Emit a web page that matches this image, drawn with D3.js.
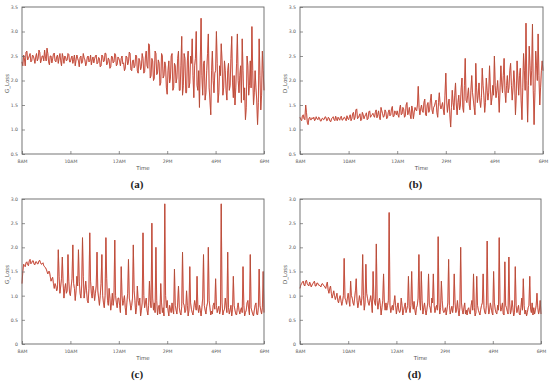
<!DOCTYPE html>
<html>
<head>
<meta charset="utf-8">
<script src="https://cdn.jsdelivr.net/npm/d3@7"></script>
<style>
  body { margin: 0; background: #fff; }
  svg { display: block; }
  .tick text { fill: #555; font-family: "DejaVu Sans", sans-serif; }
</style>
</head>
<body>
<div id="vis"></div>
<script>
// time axis labels (hours after 8AM)
const TIME_TICKS = [0, 2, 4, 6, 8, 10];
const TIME_LABELS = ["8AM", "10AM", "12AM", "2PM", "4PM", "6PM"];

// samples every 2 minutes from 8AM to 6PM, one row per hour
const G_LOSS_A = [
  2.38, 2.30, 2.52, 2.44, 2.30, 2.58, 2.60, 2.42, 2.45, 2.50, 2.55, 2.38, 2.40, 2.52, 2.50, 2.44, 2.35, 2.48, 2.55, 2.40, 2.45, 2.62, 2.58, 2.36, 2.42, 2.50, 2.50, 2.40, 2.62, 2.48,
  2.40, 2.66, 2.55, 2.38, 2.32, 2.50, 2.50, 2.36, 2.44, 2.54, 2.56, 2.40, 2.38, 2.48, 2.52, 2.35, 2.46, 2.55, 2.40, 2.30, 2.55, 2.47, 2.35, 2.50, 2.48, 2.40, 2.42, 2.55, 2.53, 2.38,
  2.38, 2.46, 2.50, 2.35, 2.43, 2.52, 2.30, 2.42, 2.52, 2.45, 2.40, 2.28, 2.47, 2.50, 2.35, 2.38, 2.55, 2.46, 2.42, 2.30, 2.36, 2.48, 2.50, 2.38, 2.40, 2.52, 2.32, 2.42, 2.48, 2.36,
  2.44, 2.50, 2.52, 2.34, 2.36, 2.47, 2.45, 2.28, 2.30, 2.52, 2.50, 2.38, 2.40, 2.56, 2.55, 2.32, 2.35, 2.46, 2.42, 2.25, 2.28, 2.50, 2.48, 2.36, 2.38, 2.55, 2.52, 2.30, 2.33, 2.48,
  2.45, 2.40, 2.30, 2.45, 2.50, 2.34, 2.36, 2.20, 2.25, 2.50, 2.48, 2.32, 2.38, 2.58, 2.55, 2.22, 2.20, 2.40, 2.42, 2.26, 2.30, 2.52, 2.50, 2.20, 2.15, 2.45, 2.40, 2.22, 2.28, 2.55,
  2.45, 2.15, 2.18, 2.48, 2.60, 2.30, 2.25, 2.75, 2.72, 2.05, 2.10, 2.45, 2.40, 2.00, 2.05, 2.60, 2.55, 2.12, 2.15, 2.42, 2.35, 1.90, 1.95, 2.55, 2.50, 2.05, 2.10, 2.38, 2.30, 1.85,
  1.72, 2.20, 2.40, 1.95, 2.05, 2.50, 2.55, 1.80, 1.85, 2.35, 2.30, 1.95, 2.05, 2.45, 2.60, 1.80, 1.80, 2.30, 2.90, 1.70, 1.90, 2.55, 2.45, 1.75, 1.75, 2.40, 2.60, 1.85, 1.95, 2.50,
  2.35, 2.85, 2.10, 1.65, 2.30, 2.45, 3.00, 1.90, 1.80, 2.20, 1.45, 2.40, 3.27, 2.10, 1.70, 2.35, 2.40, 1.60, 1.75, 2.20, 2.55, 2.95, 1.85, 1.60, 1.30, 2.20, 2.60, 2.00, 1.75, 2.15,
  2.20, 3.00, 2.35, 1.55, 1.75, 2.30, 2.10, 2.75, 2.40, 1.70, 1.85, 2.40, 2.20, 1.80, 1.60, 2.20, 2.35, 1.80, 1.90, 2.45, 2.90, 1.95, 1.65, 2.10, 1.50, 1.85, 2.35, 2.95, 2.00, 1.75,
  2.10, 2.30, 1.55, 2.85, 2.20, 1.60, 1.85, 1.20, 1.45, 2.50, 2.30, 1.70, 1.90, 2.40, 1.85, 3.10, 2.20, 1.50, 1.75, 2.20, 1.85, 1.60, 1.10, 1.55, 2.85, 2.10, 1.40, 1.70, 2.60, 2.20,
  1.80
];

const D_LOSS_B = [
  1.25, 1.20, 1.18, 1.28, 1.30, 1.22, 1.20, 1.50, 1.35, 1.15, 1.10, 1.22, 1.25, 1.20, 1.20, 1.24, 1.22, 1.25, 1.18, 1.20, 1.26, 1.22, 1.20, 1.25, 1.24, 1.18, 1.17, 1.22, 1.23, 1.20,
  1.21, 1.26, 1.25, 1.18, 1.19, 1.25, 1.23, 1.17, 1.16, 1.22, 1.24, 1.26, 1.20, 1.18, 1.27, 1.22, 1.18, 1.25, 1.22, 1.19, 1.25, 1.27, 1.19, 1.20, 1.24, 1.25, 1.21, 1.18, 1.28, 1.22,
  1.20, 1.26, 1.30, 1.18, 1.22, 1.32, 1.35, 1.20, 1.25, 1.40, 1.42, 1.22, 1.24, 1.28, 1.32, 1.18, 1.20, 1.35, 1.30, 1.22, 1.27, 1.30, 1.34, 1.20, 1.22, 1.36, 1.38, 1.25, 1.28, 1.30,
  1.33, 1.28, 1.25, 1.35, 1.40, 1.24, 1.30, 1.38, 1.26, 1.20, 1.45, 1.38, 1.32, 1.25, 1.28, 1.40, 1.36, 1.22, 1.24, 1.35, 1.40, 1.28, 1.30, 1.42, 1.47, 1.26, 1.27, 1.38, 1.35, 1.30,
  1.38, 1.30, 1.25, 1.42, 1.50, 1.30, 1.32, 1.45, 1.42, 1.25, 1.28, 1.50, 1.55, 1.30, 1.35, 1.45, 1.30, 1.22, 1.48, 1.40, 1.22, 1.35, 1.45, 1.40, 1.38, 1.50, 1.88, 1.45, 1.30, 1.42,
  1.50, 1.38, 1.35, 1.55, 1.62, 1.30, 1.28, 1.50, 1.55, 1.35, 1.40, 1.60, 1.72, 1.40, 1.32, 1.45, 1.48, 1.55, 1.60, 1.35, 1.25, 1.55, 1.75, 1.50, 1.42, 1.48, 1.55, 1.40, 1.30, 1.70,
  2.15, 1.60, 1.35, 1.50, 1.62, 1.30, 1.05, 1.45, 1.80, 1.55, 1.40, 1.70, 1.95, 1.50, 1.30, 1.55, 1.70, 1.40, 1.50, 1.85, 2.05, 1.45, 1.35, 1.90, 2.45, 1.60, 1.55, 1.70, 1.85, 1.50,
  1.40, 1.80, 2.10, 1.75, 1.60, 1.45, 1.30, 2.35, 1.85, 1.55, 1.70, 1.95, 1.60, 1.45, 1.65, 2.25, 1.90, 1.70, 1.35, 1.55, 2.05, 1.80, 1.60, 1.75, 2.30, 1.85, 1.50, 1.65, 1.90, 1.70,
  2.50, 1.90, 1.65, 1.80, 2.00, 1.70, 1.35, 1.85, 2.30, 1.95, 1.75, 2.10, 2.45, 1.80, 1.55, 1.90, 2.10, 1.75, 1.85, 2.20, 2.35, 1.90, 1.60, 1.85, 2.20, 1.95, 1.30, 1.70, 2.40, 2.05,
  1.70, 2.10, 2.25, 1.60, 1.20, 1.85, 2.55, 2.20, 1.80, 3.17, 2.00, 1.15, 1.90, 2.70, 2.30, 1.90, 2.20, 3.15, 1.80, 1.10, 1.75, 2.60, 2.30, 2.00, 2.95, 2.10, 1.50, 1.85, 2.20, 2.40,
  2.20
];

const G_LOSS_C = [
  1.25, 1.50, 1.65, 1.62, 1.60, 1.68, 1.70, 1.64, 1.62, 1.72, 1.75, 1.66, 1.68, 1.72, 1.72, 1.65, 1.64, 1.70, 1.70, 1.66, 1.66, 1.72, 1.73, 1.68, 1.65, 1.66, 1.68, 1.62, 1.60, 1.58,
  1.55, 1.50, 1.45, 1.50, 1.50, 1.40, 1.30, 1.35, 1.38, 1.25, 1.15, 1.25, 1.20, 1.10, 1.15, 1.95, 1.40, 1.05, 1.20, 1.35, 1.80, 1.25, 0.95, 1.15, 1.25, 1.05, 1.10, 1.85, 1.30, 1.05,
  1.00, 1.20, 1.35, 2.05, 1.25, 1.15, 0.90, 1.10, 1.40, 1.20, 1.95, 1.30, 1.05, 0.95, 1.20, 2.20, 1.40, 0.95, 1.10, 1.30, 1.10, 0.90, 0.85, 1.15, 2.30, 1.30, 1.05, 0.95, 1.20, 1.10,
  0.90, 1.05, 1.20, 1.90, 1.10, 0.95, 0.80, 1.00, 1.25, 1.85, 1.00, 0.85, 0.75, 1.00, 2.20, 1.35, 0.90, 0.80, 1.15, 0.95, 0.70, 0.85, 1.05, 0.80, 0.95, 2.15, 1.00, 0.85, 0.75, 0.95,
  0.95, 0.80, 0.65, 1.60, 1.00, 0.80, 0.90, 1.00, 0.75, 0.60, 0.85, 1.05, 1.75, 0.95, 0.85, 0.70, 0.80, 0.95, 2.05, 1.10, 0.90, 0.62, 0.75, 1.20, 0.90, 0.80, 0.95, 0.58, 0.70, 0.85,
  2.30, 1.00, 0.75, 0.85, 0.95, 0.70, 0.60, 0.80, 1.30, 0.90, 0.75, 2.50, 0.95, 0.70, 0.85, 0.65, 2.00, 0.90, 0.60, 0.75, 0.80, 0.62, 1.25, 0.85, 0.65, 0.75, 0.58, 2.90, 1.00, 0.75,
  0.90, 0.70, 0.58, 0.80, 0.72, 0.65, 0.85, 0.70, 0.62, 1.55, 0.80, 0.70, 0.62, 0.85, 1.20, 0.75, 0.65, 0.60, 0.78, 1.90, 0.85, 0.80, 0.65, 0.70, 1.10, 0.80, 0.58, 0.70, 1.60, 0.85,
  0.72, 0.65, 0.60, 0.75, 0.90, 0.80, 0.70, 1.40, 0.75, 0.65, 0.80, 0.70, 0.58, 0.75, 0.95, 1.85, 0.80, 0.70, 0.62, 0.78, 0.85, 2.00, 0.90, 0.75, 0.60, 0.68, 0.62, 0.80, 0.85, 0.72,
  1.35, 0.80, 0.65, 0.72, 0.78, 0.62, 0.70, 2.90, 0.85, 0.60, 0.68, 0.72, 0.95, 0.80, 0.65, 1.90, 0.75, 0.62, 0.70, 0.80, 0.58, 0.72, 1.40, 0.80, 0.70, 0.62, 0.60, 0.75, 0.85, 0.70,
  0.62, 0.70, 0.75, 0.65, 1.60, 0.80, 0.58, 0.65, 0.70, 0.85, 0.90, 0.72, 0.60, 1.85, 0.75, 0.68, 0.62, 0.58, 0.70, 0.80, 0.85, 0.62, 0.60, 0.75, 1.55, 0.80, 0.70, 0.62, 0.75, 1.50,
  0.65
];

const D_LOSS_D = [
  1.15, 1.22, 1.25, 1.28, 1.30, 1.22, 1.20, 1.30, 1.32, 1.25, 1.22, 1.20, 1.28, 1.24, 1.18, 1.22, 1.25, 1.28, 1.30, 1.20, 1.20, 1.26, 1.26, 1.22, 1.22, 1.20, 1.18, 1.24, 1.25, 1.22,
  1.20, 1.18, 1.15, 1.22, 1.28, 1.12, 1.05, 1.15, 1.20, 1.05, 0.95, 1.02, 1.10, 1.00, 0.92, 0.98, 1.05, 0.90, 0.85, 0.95, 1.00, 0.90, 0.80, 0.88, 1.00, 1.77, 0.95, 0.90, 0.82, 0.95,
  1.05, 0.90, 0.78, 1.30, 1.00, 0.95, 0.85, 0.80, 0.95, 1.10, 1.35, 0.90, 0.75, 0.85, 1.00, 0.90, 0.80, 0.95, 1.85, 1.00, 0.70, 0.85, 1.65, 1.05, 0.95, 0.85, 0.80, 0.90, 1.00, 0.85,
  0.65, 1.50, 0.95, 0.85, 0.80, 2.07, 0.90, 0.72, 0.85, 0.95, 0.80, 0.60, 0.75, 0.90, 1.45, 0.85, 0.70, 0.85, 0.70, 0.80, 0.90, 2.72, 0.80, 0.65, 0.75, 0.80, 0.70, 0.85, 1.00, 0.80,
  0.62, 0.75, 0.85, 0.70, 0.65, 0.70, 0.95, 0.80, 0.60, 0.70, 0.78, 0.85, 0.65, 0.72, 0.80, 1.40, 0.75, 0.65, 0.80, 1.50, 0.85, 0.72, 0.88, 0.70, 0.60, 0.75, 0.80, 0.95, 1.85, 0.90,
  0.70, 1.50, 0.90, 0.62, 0.75, 0.85, 0.70, 0.60, 0.72, 0.85, 1.45, 0.80, 0.75, 0.65, 0.95, 0.85, 1.45, 0.80, 0.65, 0.75, 0.80, 0.70, 2.22, 0.85, 0.62, 0.75, 1.30, 0.90, 0.70, 0.65,
  0.68, 0.75, 0.60, 0.72, 0.85, 1.75, 0.80, 0.62, 0.70, 0.78, 0.65, 0.80, 1.45, 0.85, 0.65, 0.72, 0.90, 0.70, 0.58, 0.75, 2.00, 0.85, 0.70, 0.62, 0.75, 0.85, 0.62, 0.70, 0.60, 0.72,
  0.75, 0.65, 0.62, 0.80, 0.90, 0.70, 1.45, 0.75, 0.58, 0.65, 1.40, 0.80, 0.70, 0.65, 0.60, 0.72, 0.80, 0.85, 1.45, 0.75, 0.65, 0.62, 0.80, 2.13, 0.85, 0.62, 0.70, 0.85, 0.75, 0.65,
  0.60, 1.50, 0.85, 0.72, 0.65, 0.62, 0.80, 0.70, 2.20, 0.85, 0.68, 0.75, 0.85, 0.62, 0.60, 1.70, 0.80, 0.75, 0.68, 0.62, 1.80, 0.85, 0.62, 0.70, 0.90, 0.75, 0.58, 0.65, 1.60, 0.80,
  0.65, 0.72, 0.80, 0.62, 0.60, 0.75, 0.95, 0.70, 1.35, 0.80, 0.62, 0.70, 0.58, 0.65, 0.75, 0.80, 1.40, 0.72, 0.65, 0.85, 0.60, 0.75, 0.62, 0.70, 0.80, 1.05, 0.75, 0.62, 0.70, 0.90,
  0.62
];

const W = 550, H = 384;

const svg = d3.select("#vis").append("svg")
  .attr("width", W)
  .attr("height", H);

// one panel per chart
const PANELS = [
  { data: G_LOSS_A, ylabel: "G_Loss", tag: "(a)", yMin: 0.5, yMax: 3.5,
    left: 22, right: 264, top: 7, bottom: 154, tagY: 188 },
  { data: D_LOSS_B, ylabel: "D_Loss", tag: "(b)", yMin: 0.5, yMax: 3.5,
    left: 300, right: 543, top: 7, bottom: 154, tagY: 188 },
  { data: G_LOSS_C, ylabel: "G_Loss", tag: "(c)", yMin: 0, yMax: 3.0,
    left: 22, right: 264, top: 199, bottom: 344, tagY: 378 },
  { data: D_LOSS_D, ylabel: "D_Loss", tag: "(d)", yMin: 0, yMax: 3.0,
    left: 300, right: 541, top: 199, bottom: 344, tagY: 378 }
];

PANELS.forEach((p) => {

  const X_SCALE = d3.scaleLinear()
    .domain([0, 10])
    .range([p.left, p.right]);

  const Y_SCALE = d3.scaleLinear()
    .domain([p.yMin, p.yMax])
    .range([p.bottom, p.top]);

  const step = 10 / (p.data.length - 1);

  const line = d3.line()
    .x((d, i) => X_SCALE(i * step))
    .y((d) => Y_SCALE(d));

  // red line underneath, brownish line on top
  svg.append("path")
    .datum(p.data)
    .attr("d", line)
    .attr("fill", "none")
    .attr("stroke", "#ec3a32")
    .attr("stroke-width", 0.9)
    .attr("stroke-linejoin", "round");

  svg.append("path")
    .datum(p.data)
    .attr("d", line)
    .attr("fill", "none")
    .attr("stroke", "#8c5a3c")
    .attr("stroke-width", 0.4)
    .attr("stroke-linejoin", "round");

  // frame around the plot
  svg.append("rect")
    .attr("x", p.left)
    .attr("y", p.top)
    .attr("width", p.right - p.left)
    .attr("height", p.bottom - p.top)
    .attr("fill", "none")
    .attr("stroke", "#666")
    .attr("stroke-width", 0.9);

  // x axis
  const xAxis = svg.append("g")
    .attr("transform", "translate(0," + p.bottom + ")")
    .call(d3.axisBottom(X_SCALE)
      .tickValues(TIME_TICKS)
      .tickFormat((d, i) => TIME_LABELS[i])
      .tickSizeInner(-3)
      .tickSizeOuter(0)
      .tickPadding(6));
  xAxis.select(".domain").remove();
  xAxis.selectAll("line").attr("stroke", "#666").attr("stroke-width", 0.7);
  xAxis.selectAll("text").attr("font-size", "4.6px");

  // y axis
  const yAxis = svg.append("g")
    .attr("transform", "translate(" + p.left + ",0)")
    .call(d3.axisLeft(Y_SCALE)
      .ticks(6)
      .tickFormat((d) => d === 0 ? "0" : d3.format(".1f")(d))
      .tickSizeInner(-3)
      .tickSizeOuter(0)
      .tickPadding(4));
  yAxis.select(".domain").remove();
  yAxis.selectAll("line").attr("stroke", "#666").attr("stroke-width", 0.7);
  yAxis.selectAll("text").attr("font-size", "4.6px");

  // axis titles
  svg.append("text")
    .attr("x", (p.left + p.right) / 2)
    .attr("y", p.bottom + 16)
    .attr("text-anchor", "middle")
    .attr("font-family", "DejaVu Sans, sans-serif")
    .attr("font-size", "5.5px")
    .attr("fill", "#555")
    .text("Time");

  svg.append("text")
    .attr("transform", "translate(" + (p.left - 13) + "," + ((p.top + p.bottom) / 2 + 3) + ") rotate(-90)")
    .attr("text-anchor", "middle")
    .attr("font-family", "DejaVu Sans, sans-serif")
    .attr("font-size", "5.5px")
    .attr("fill", "#555")
    .text(p.ylabel);

  // panel tag
  svg.append("text")
    .attr("x", (p.left + p.right) / 2 - 6)
    .attr("y", p.tagY)
    .attr("text-anchor", "middle")
    .attr("font-family", "Liberation Serif, serif")
    .attr("font-weight", "bold")
    .attr("font-size", "11px")
    .attr("fill", "#222")
    .text(p.tag);
});
</script>
</body>
</html>
